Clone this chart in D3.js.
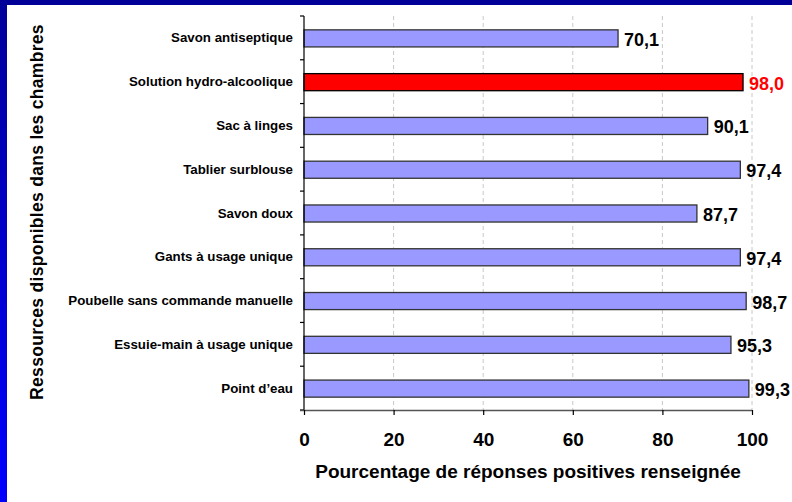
<!DOCTYPE html>
<html>
<head>
<meta charset="utf-8">
<script src="https://cdn.jsdelivr.net/npm/d3@7"></script>
<style>
  body { margin: 0; background: #fff; }
  svg { display: block; font-family: Arial, "Liberation Sans", sans-serif; }
</style>
</head>
<body>
<div id="chart"></div>
<script>
// categories top to bottom
var categories = ["Savon antiseptique", "Solution hydro-alcoolique", "Sac à linges",
  "Tablier surblouse", "Savon doux", "Gants à usage unique",
  "Poubelle sans commande manuelle", "Essuie-main à usage unique", "Point d\u2019eau"];
var values = [70.1, 98.0, 90.1, 97.4, 87.7, 97.4, 98.7, 95.3, 99.3];
var highlighted = ["Solution hydro-alcoolique"];
var xTicks = [0, 20, 40, 60, 80, 100];
var xTitle = "Pourcentage de réponses positives renseignée";
var yTitle = "Ressources disponibles dans les chambres";

var W = 792, H = 502;
var margin = {top: 16, right: 40, bottom: 92, left: 304};

var svg = d3.select("#chart").append("svg")
    .attr("width", W)
    .attr("height", H);

// blue frame (top bar + left gradient bar)
var defs = svg.append("defs");
var grad = defs.append("linearGradient")
    .attr("id", "leftGrad")
    .attr("x1", 0).attr("y1", 0).attr("x2", 0).attr("y2", 1);
grad.append("stop").attr("offset", "0%").attr("stop-color", "#000099");
grad.append("stop").attr("offset", "100%").attr("stop-color", "#0000ff");

svg.append("rect").attr("x", 0).attr("y", 0).attr("width", 7).attr("height", H)
    .attr("fill", "url(#leftGrad)");
svg.append("rect").attr("x", 0).attr("y", 0).attr("width", W).attr("height", 5)
    .attr("fill", "#000099");

var x = d3.scaleLinear()
    .domain([0, 100])
    .range([margin.left, 752]);

var y = d3.scaleBand()
    .domain(categories)
    .range([margin.top, H - margin.bottom])
    .paddingInner(0.61)
    .paddingOuter(0.305);

// band boundaries for y ticks
var step = y.step();
var yStart = y.range()[0];
var yEnd = y.range()[1];

// grid
svg.append("g").selectAll("line")
    .data(xTicks.slice(1))
    .enter().append("line")
    .attr("x1", function(d) { return x(d); })
    .attr("x2", function(d) { return x(d); })
    .attr("y1", yStart)
    .attr("y2", yEnd)
    .attr("stroke", "#c8c8c8")
    .attr("stroke-width", 1)
    .attr("stroke-dasharray", "4,3");

// bars
svg.append("g").selectAll("rect")
    .data(categories)
    .enter().append("rect")
    .attr("x", x(0))
    .attr("y", function(d) { return y(d) + 0.5; })
    .attr("width", function(d, i) { return x(values[i]) - x(0); })
    .attr("height", y.bandwidth())
    .attr("fill", function(d) { return highlighted.indexOf(d) >= 0 ? "#ff0000" : "#9999ff"; })
    .attr("stroke", function(d) { return highlighted.indexOf(d) >= 0 ? "#000" : "#333"; })
    .attr("stroke-width", 1.3);

// value labels
svg.append("g").selectAll("text")
    .data(categories)
    .enter().append("text")
    .attr("x", function(d, i) { return x(values[i]) + 6; })
    .attr("y", function(d) { return y(d) + y.bandwidth() / 2 + 2; })
    .attr("dominant-baseline", "central")
    .attr("font-size", "18px")
    .attr("font-weight", "bold")
    .attr("fill", function(d) { return highlighted.indexOf(d) >= 0 ? "#ff0000" : "#000"; })
    .text(function(d, i) { return d3.format(".1f")(values[i]).replace(".", ","); });

// y axis line + outward ticks at band boundaries
var yAxisG = svg.append("g");
yAxisG.append("line")
    .attr("x1", x(0)).attr("x2", x(0))
    .attr("y1", yStart).attr("y2", yEnd)
    .attr("stroke", "#000").attr("stroke-width", 1.2);
yAxisG.selectAll("line.tick")
    .data(d3.range(categories.length + 1))
    .enter().append("line")
    .attr("class", "tick")
    .attr("x1", x(0) - 4).attr("x2", x(0))
    .attr("y1", function(i) { return yStart + i * step; })
    .attr("y2", function(i) { return yStart + i * step; })
    .attr("stroke", "#000").attr("stroke-width", 1.2);

// category labels
svg.append("g").selectAll("text")
    .data(categories)
    .enter().append("text")
    .attr("x", x(0) - 11)
    .attr("y", function(d) { return y(d) + y.bandwidth() / 2; })
    .attr("dominant-baseline", "central")
    .attr("text-anchor", "end")
    .attr("font-size", "13.3px")
    .attr("font-weight", "bold")
    .text(function(d) { return d; });

// x axis
var xAxis = d3.axisBottom(x)
    .tickValues(xTicks)
    .tickSize(5)
    .tickSizeOuter(0)
    .tickFormat(d3.format("d"));

var xg = svg.append("g")
    .attr("transform", "translate(0," + yEnd + ")")
    .call(xAxis);
xg.select(".domain").attr("stroke", "#555").attr("stroke-width", 1.5)
    .attr("d", "M" + (x(0) - 4) + ",0.5H" + x(100));
xg.selectAll(".tick line").attr("stroke", "#000").attr("stroke-width", 1.2);
xg.selectAll(".tick text")
    .attr("y", 36)
    .attr("dy", 0)
    .attr("font-size", "19px")
    .attr("font-weight", "bold")
    .attr("font-family", "Arial, 'Liberation Sans', sans-serif")
    .attr("fill", "#000");

// titles
svg.append("text")
    .attr("x", (x(0) + x(100)) / 2)
    .attr("y", 478)
    .attr("text-anchor", "middle")
    .attr("font-size", "19px")
    .attr("font-weight", "bold")
    .text(xTitle);

svg.append("text")
    .attr("transform", "translate(43," + 212 + ") rotate(-90)")
    .attr("text-anchor", "middle")
    .attr("font-size", "17.5px")
    .attr("letter-spacing", "0.3px")
    .attr("font-weight", "bold")
    .text(yTitle);
</script>
</body>
</html>
